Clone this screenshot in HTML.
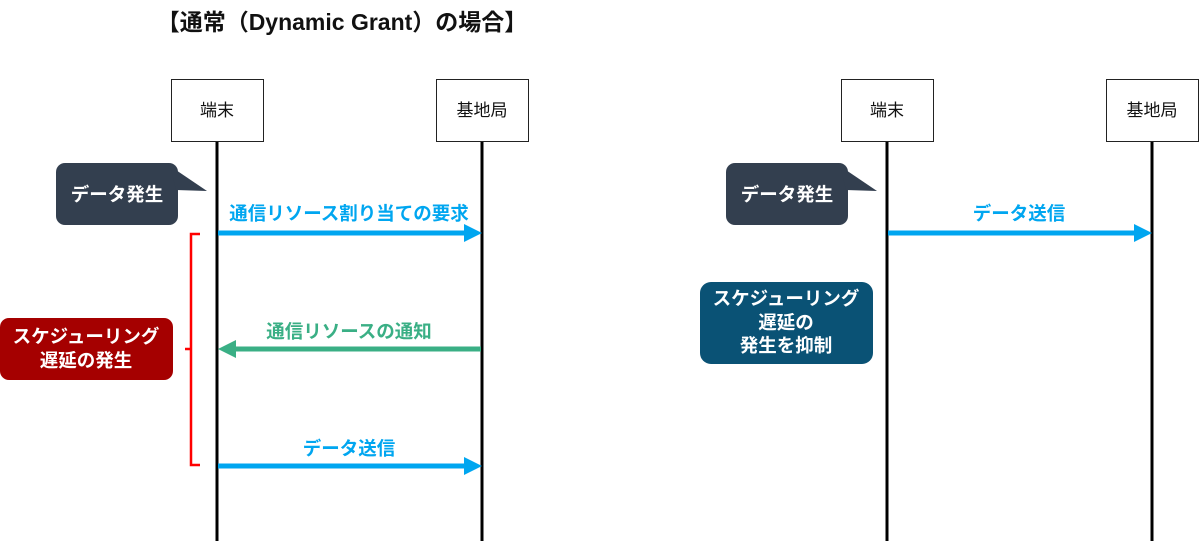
<!DOCTYPE html>
<html><head><meta charset="utf-8"><style>
body{margin:0;background:#fff}
svg{display:block}
text{font-family:"Liberation Sans","Noto Sans CJK JP",sans-serif}
</style></head><body>
<svg width="1200" height="541" viewBox="0 0 1200 541">
<text x="342" y="30" text-anchor="middle" font-size="23" font-weight="bold" fill="#111">【通常（Dynamic Grant）の場合】</text>
<g stroke="#000" stroke-width="3">
<line x1="217" y1="141" x2="217" y2="541"/><line x1="482" y1="141" x2="482" y2="541"/>
<line x1="887" y1="141" x2="887" y2="541"/><line x1="1152" y1="141" x2="1152" y2="541"/>
</g>
<g fill="#fff" stroke="#222" stroke-width="1">
<rect x="171.5" y="79.5" width="92" height="62"/><rect x="436.5" y="79.5" width="92" height="62"/>
<rect x="841.5" y="79.5" width="92" height="62"/><rect x="1106.5" y="79.5" width="92" height="62"/>
</g>
<g font-size="17" text-anchor="middle" fill="#111">
<text x="217" y="116">端末</text><text x="482" y="116">基地局</text>
<text x="887" y="116">端末</text><text x="1152" y="116">基地局</text>
</g>
<g fill="#333f4f">
<rect x="56" y="163" width="122" height="62" rx="9"/><path d="M170 166 L207 191 L176 190 Z"/>
<rect x="726" y="163" width="122" height="62" rx="9"/><path d="M840 166 L877 191 L846 190 Z"/>
</g>
<g font-size="18.5" font-weight="bold" fill="#fff" text-anchor="middle">
<text x="117" y="201">データ発生</text><text x="787" y="201">データ発生</text>
</g>
<g stroke-width="5">
<line x1="218" y1="233" x2="466" y2="233" stroke="#00a6f0"/>
<line x1="481" y1="349" x2="234" y2="349" stroke="#3aaf85"/>
<line x1="218" y1="466" x2="466" y2="466" stroke="#00a6f0"/>
<line x1="888" y1="233" x2="1136" y2="233" stroke="#00a6f0"/>
</g>
<path d="M464 224 L482 233 L464 242Z" fill="#00a6f0"/>
<path d="M236 340 L218 349 L236 358Z" fill="#3aaf85"/>
<path d="M464 457 L482 466 L464 475Z" fill="#00a6f0"/>
<path d="M1134 224 L1152 233 L1134 242Z" fill="#00a6f0"/>
<g font-size="18.5" font-weight="bold" text-anchor="middle">
<text x="349" y="220" fill="#00a6f0">通信リソース割り当ての要求</text>
<text x="349" y="338" fill="#3aaf85">通信リソースの通知</text>
<text x="349" y="455" fill="#00a6f0">データ送信</text>
<text x="1019" y="220" fill="#00a6f0">データ送信</text>
</g>
<path d="M200 234 L191 234 L191 465 L200 465 M191 349 L185 349" fill="none" stroke="#f00" stroke-width="2.5"/>
<rect x="0" y="318" width="173" height="62" rx="9" fill="#a50000"/>
<g font-size="18.5" font-weight="bold" fill="#fff" text-anchor="middle">
<text x="86" y="343">スケジューリング</text><text x="86" y="367">遅延の発生</text>
</g>
<rect x="700" y="282" width="173" height="82" rx="11" fill="#0a5275"/>
<g font-size="18.5" font-weight="bold" fill="#fff" text-anchor="middle">
<text x="786" y="305">スケジューリング</text><text x="786" y="329">遅延の</text><text x="786" y="352">発生を抑制</text>
</g>
</svg>
</body></html>
